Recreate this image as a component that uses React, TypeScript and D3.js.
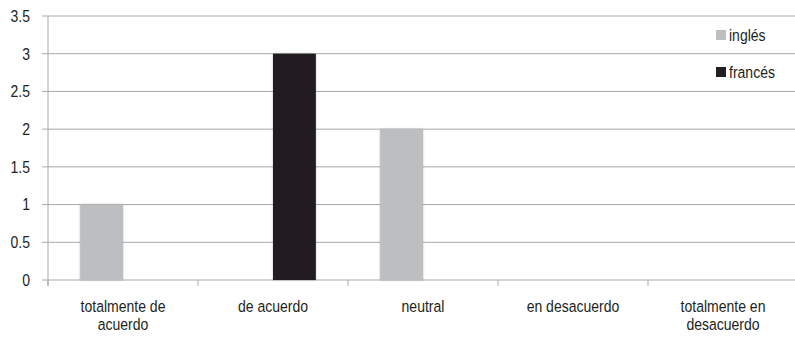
import React from "react";
import * as d3 from "d3";

const categories = [
  ["totalmente de", "acuerdo"],
  ["de acuerdo"],
  ["neutral"],
  ["en desacuerdo"],
  ["totalmente en", "desacuerdo"],
];
const seriesNames = ["inglés", "francés"];
const ingles = [1, 0, 2, 0, 0];
const frances = [0, 3, 0, 0, 0];
const yTicks = [0, 0.5, 1, 1.5, 2, 2.5, 3, 3.5];
const colors = ["#bcbec0", "#231f20"];

export default function App() {
  const W = 795, H = 337;
  const left = 48, right = 798, top = 16, bottom = 280;
  const font = "'Liberation Sans', Arial, sans-serif";
  const fs = 16.5;
  const sx = 0.85;
  const y = d3.scaleLinear().domain([0, 3.5]).range([bottom, top]);
  const x = d3.scaleBand<number>().domain(d3.range(categories.length)).range([left, right]);
  const inner = d3.scaleBand<number>().domain([0, 1]).range([0, x.bandwidth()]).paddingInner(0).paddingOuter(0.75);
  const series = [ingles, frances];
  const grid = "#a7a9ac";
  const T = (px: number, py: number) => `translate(${px},${py}) scale(${sx},1)`;
  return (
    <svg width={W} height={H} style={{ position: "absolute", left: 0, top: 0 }} fontFamily={font}>
      <defs>
        <filter id="sh" x="-20%" y="-5%" width="140%" height="110%">
          <feGaussianBlur in="SourceAlpha" stdDeviation="1.2" />
          <feComponentTransfer><feFuncA type="linear" slope="0.25" /></feComponentTransfer>
          <feMerge><feMergeNode /><feMergeNode in="SourceGraphic" /></feMerge>
        </filter>
      </defs>
      <rect width={W} height={H} fill="#fff" />
      {yTicks.map((t) => (
        <g key={t}>
          <line x1={42} x2={right} y1={y(t)} y2={y(t)} stroke={grid} strokeWidth={1} />
          <text transform={T(30, y(t))} dy="0.35em" textAnchor="end" fontSize={fs} fill="#231f20">{t}</text>
        </g>
      ))}
      <line x1={left} x2={left} y1={top} y2={bottom + 6} stroke={grid} />
      {d3.range(categories.length + 1).map((i) => (
        <line key={i} x1={left + i * x.step()} x2={left + i * x.step()} y1={bottom} y2={bottom + 6} stroke={grid} />
      ))}
      {series.map((vals, s) =>
        vals.map((v, i) =>
          v > 0 ? (
            <rect key={s + "-" + i} x={(x(i) as number) + (inner(s) as number)} width={inner.bandwidth()}
              y={y(v)} height={y(0) - y(v)} fill={colors[s]} filter="url(#sh)" />
          ) : null
        )
      )}
      {categories.map((lines, i) =>
        lines.map((l, j) => (
          <text key={i + "-" + j} transform={T((x(i) as number) + x.bandwidth() / 2, 312 + j * 18)}
            textAnchor="middle" fontSize={fs} fill="#231f20">{l}</text>
        ))
      )}
      {seriesNames.map((n, s) => (
        <g key={n}>
          <rect x={716} y={30 + s * 37} width={10} height={10} fill={colors[s]} />
          <text transform={T(729, 35 + s * 37)} dy="0.35em" fontSize={fs} fill="#231f20">{n}</text>
        </g>
      ))}
    </svg>
  );
}
